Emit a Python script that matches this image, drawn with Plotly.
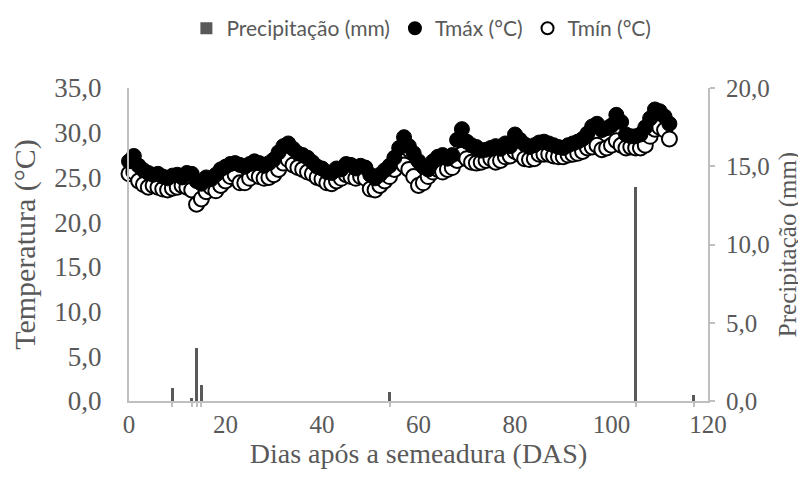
import plotly.graph_objects as go

# ---- data ----
days = list(range(0, 113))
tmax = [26.8, 27.4, 26.3, 25.8, 25.5, 25.3, 25.4, 25.1, 24.9, 25.2,
        25.3, 25.0, 25.5, 25.4, 24.6, 24.3, 25.0, 24.8, 25.3, 25.9,
        26.2, 26.5, 26.6, 26.4, 26.2, 26.5, 26.8, 26.6, 26.3, 26.6,
        27.0, 27.8, 28.5, 28.8, 28.2, 27.7, 27.5, 27.2, 26.7, 26.2,
        26.0, 25.6, 25.5, 26.0, 25.9, 26.5, 26.4, 26.0, 26.3, 26.1,
        25.3, 24.9, 25.3, 25.8, 26.3, 27.2, 28.3, 29.5, 28.5, 27.7,
        26.8, 26.2, 25.9, 26.8, 27.3, 27.5, 27.1, 27.5, 29.2, 30.4,
        29.0, 28.6, 28.4, 28.0, 28.1, 28.3, 28.5, 28.2, 28.8, 28.5,
        29.8, 29.2, 28.7, 28.4, 28.6, 28.9, 29.0, 28.8, 28.6, 28.4,
        28.3, 28.6, 28.8, 29.0, 29.3, 29.9, 30.7, 31.0, 30.3, 30.5,
        30.8, 32.0, 31.2, 29.8, 29.6, 29.6, 29.8, 30.6, 31.6, 32.6,
        32.4, 31.8, 31.0]
tmin = [25.4, 25.6, 24.6, 24.2, 23.9, 24.1, 23.9, 23.7, 23.6, 23.8,
        23.9, 24.1, 23.9, 23.6, 22.0, 22.6, 23.4, 23.9, 23.5, 24.1,
        24.6, 25.1, 25.3, 24.4, 24.4, 24.9, 25.4, 25.1, 24.9, 25.0,
        25.3, 25.9, 26.6, 27.0, 26.4, 26.1, 25.9, 25.6, 25.4, 25.0,
        24.8, 24.4, 24.3, 24.6, 24.9, 25.3, 25.1, 24.9, 25.1, 24.9,
        23.7, 23.6, 24.1, 24.6, 25.1, 25.9, 26.9, 26.4, 25.9, 25.1,
        24.1, 24.4, 25.1, 25.6, 25.9, 25.6, 25.9, 26.1, 26.9, 27.6,
        27.1, 26.7, 26.6, 26.7, 26.9, 27.1, 26.7, 26.9, 27.3, 27.4,
        27.9, 27.6, 27.1, 27.0, 27.1, 27.6, 27.6, 27.6, 27.4, 27.3,
        27.3, 27.5, 27.6, 27.7, 27.9, 28.3, 28.4, 28.6, 28.1, 28.3,
        28.6, 29.1, 28.6, 28.3, 28.4, 28.3, 28.3, 28.6, 29.6, 30.4,
        30.6, 30.3, 29.3]
precip_days = [9, 13, 14, 15, 54, 105, 117]
precip_mm = [0.8, 0.2, 3.4, 1.0, 0.6, 13.7, 0.4]

x_ticks = [0, 20, 40, 60, 80, 100, 120]

GREY_TXT = "#595959"
AXIS = "#BFBFBF"
SERIF = "Liberation Serif"

fig = go.Figure()

fig.add_trace(go.Bar(
    x=precip_days, y=precip_mm, name="Precipitação (mm)",
    xaxis="x2", yaxis="y2", width=0.6,
    marker=dict(color="#595959", line=dict(width=0)),
    legendrank=1,
))
fig.add_trace(go.Scatter(
    x=days, y=tmin, name="Tmín (°C)", mode="markers", cliponaxis=False,
    marker=dict(symbol="circle", size=15, color="white",
                line=dict(color="black", width=2)),
    legendrank=3,
))
fig.add_trace(go.Scatter(
    x=days, y=tmax, name="Tmáx (°C)", mode="markers", cliponaxis=False,
    marker=dict(symbol="circle", size=15, color="black",
                line=dict(color="black", width=1)),
    legendrank=2,
))

def font(sz):
    return dict(family=SERIF, size=sz, color=GREY_TXT)

fig.update_layout(
    width=806, height=477,
    margin=dict(l=121, r=106, t=80, b=84, autoexpand=False),
    paper_bgcolor="white", plot_bgcolor="white",
    separators=",.",
    showlegend=True,
    legend=dict(orientation="h", x=0.505, xanchor="center", y=1.19, yanchor="middle",
                font=dict(family="Lato", size=21, color=GREY_TXT),
                traceorder="normal", itemsizing="constant", itemwidth=30,
                bgcolor="rgba(0,0,0,0)"),
    bargap=0,
    xaxis=dict(range=[0, 120], tickvals=x_ticks, ticks="", ticklen=0, showgrid=False,
               zeroline=False, showline=True, linecolor=AXIS, linewidth=2,
               tickfont=font(25), ticklabelstandoff=0, automargin=False,
               title=dict(text="Dias após a semeadura (DAS)", font=font(28), standoff=0)),
    xaxis2=dict(range=[0, 120], overlaying="x", anchor="y2", side="bottom",
                tickvals=precip_days, ticks="outside", ticklen=5, tickcolor=AXIS,
                tickwidth=1.5, showticklabels=False, showgrid=False,
                zeroline=False, showline=False, automargin=False),
    yaxis=dict(range=[0, 35], dtick=5, tickformat=".1f", ticks="", showgrid=False,
               zeroline=False, showline=True, linecolor=AXIS, linewidth=2,
               tickfont=font(27), ticklabelstandoff=20, automargin=False,
               title=dict(text="Temperatura (°C)", font=font(30), standoff=12)),
    yaxis2=dict(range=[0, 20], dtick=5, tickformat=".1f", overlaying="y", side="right",
                anchor="x2", ticks="outside", ticklen=5, tickcolor=AXIS, tickwidth=1.5,
                showgrid=False, zeroline=False, showline=True, linecolor=AXIS,
                linewidth=2, tickfont=font(25), ticklabelstandoff=6, automargin=False,
                title=dict(text="Precipitação (mm)", font=font(25), standoff=10)),
)

fig.write_html("out.html")
